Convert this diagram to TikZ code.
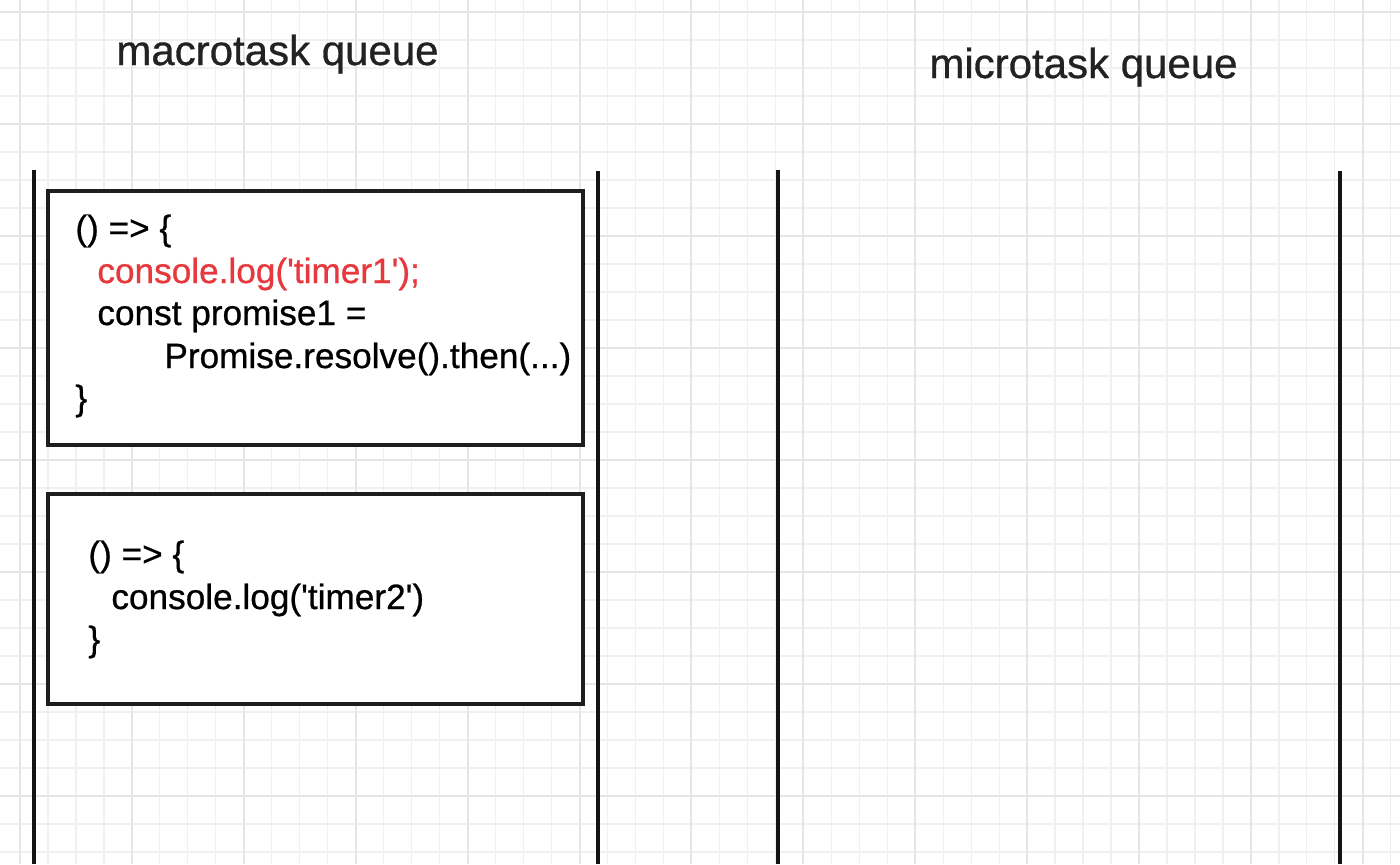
\documentclass[tikz,border=0pt]{standalone}
\usepackage{fontspec}
\setmainfont{Liberation Sans}[Ligatures=TeXOff]
\newfontfamily\codefont{Liberation Sans}[Ligatures=TeXOff, FakeBold=0.7]
\definecolor{gridminor}{RGB}{240,240,240}
\definecolor{gridmajor}{RGB}{230,230,230}
\definecolor{codered}{RGB}{230,56,61}
\definecolor{titlegray}{RGB}{34,34,34}
\tikzset{
  codebox/.style={draw={rgb,255:red,30;green,30;blue,30}, fill=white, line width=1.6pt, inner sep=0pt},
  codeline/.style={anchor=base west, inner sep=0pt, font=\codefont\fontsize{17.6pt}{21pt}\selectfont, text=black},
  titletext/.style={anchor=base west, inner sep=0pt, font=\codefont\fontsize{21pt}{25pt}\selectfont, text=titlegray},
  queueline/.style={line width=1.6pt, draw={rgb,255:red,20;green,20;blue,20}}
}
\begin{document}
\begin{tikzpicture}[x=0.5pt, y=-0.5pt]
\useasboundingbox (0,0) rectangle (1400,864);
\fill[white] (0,0) rectangle (1400,864);
% grid
\foreach \k in {0,...,49} {
  \pgfmathsetmacro{\gx}{20+27.975*\k}
  \draw[gridminor, line width=0.6pt] (\gx,0) -- (\gx,864);
}
\foreach \k in {0,...,30} {
  \pgfmathsetmacro{\gy}{12+28*\k}
  \draw[gridminor, line width=0.6pt] (0,\gy) -- (1400,\gy);
}
\foreach \k in {0,...,12} {
  \pgfmathsetmacro{\gx}{20+111.9*\k}
  \draw[gridmajor, line width=1pt] (\gx,0) -- (\gx,864);
}
\foreach \k in {0,...,7} {
  \pgfmathsetmacro{\gy}{12+112*\k}
  \draw[gridmajor, line width=1pt] (0,\gy) -- (1400,\gy);
}
% titles
\node[titletext] (macrotitle) at (116,65) {macrotask queue};
\node[titletext] (microtitle) at (929,78) {microtask queue};
% queue walls
\draw[queueline] (34,170) -- (34,864);
\draw[queueline] (598,171) -- (598,864);
\draw[queueline] (778,170) -- (778,864);
\draw[queueline] (1340,171) -- (1340,864);
% boxes
\node[codebox, minimum width=267.5pt, minimum height=127pt] (box1) at (315.5,318) {};
\node[codebox, minimum width=267.5pt, minimum height=105pt] (box2) at (315.5,599) {};
% box1 code
\node[codeline] (b1l1) at (75,240) {() => \{};
\node[codeline, text=codered] (b1l2) at (97,283) {console.log('timer1');};
\node[codeline] (b1l3) at (97,325) {const promise1 =};
\node[codeline] (b1l4) at (164,368) {Promise.resolve().then(...)};
\node[codeline] (b1l5) at (75,410) {\}};
% box2 code
\node[codeline] (b2l1) at (88,566) {() => \{};
\node[codeline] (b2l2) at (111,609) {console.log('timer2')};
\node[codeline] (b2l3) at (88,651) {\}};
\end{tikzpicture}
\end{document}
